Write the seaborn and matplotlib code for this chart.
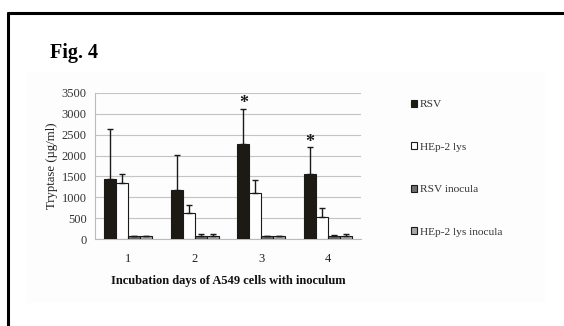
import matplotlib
matplotlib.use('Agg')
import matplotlib.pyplot as plt
from matplotlib.lines import Line2D
from matplotlib.patches import Rectangle, Patch
import seaborn as sns
import pandas as pd
import numpy as np

sns.set_style('white')
plt.rcParams['font.family'] = ['Liberation Serif', 'DejaVu Serif']

days = ['1', '2', '3', '4']
groups = ['RSV', 'HEp-2 lys', 'RSV inocula', 'HEp-2 lys inocula']
rsv = [1440, 1170, 2270, 1550]
rsv_err = [1190, 850, 850, 650]
hep = [1350, 630, 1095, 530]
hep_err = [200, 180, 320, 220]
rsv_inoc = [60, 80, 60, 70]
rsv_inoc_err = [20, 40, 20, 30]
hep_inoc = [60, 80, 60, 80]
hep_inoc_err = [20, 50, 20, 50]
signif = [False, False, True, True]

colors = ['#1f1b12', '#ffffff', '#6e6e6e', '#a8a8a8']

values = [rsv, hep, rsv_inoc, hep_inoc]
errors = [rsv_err, hep_err, rsv_inoc_err, hep_inoc_err]
df = pd.DataFrame({
    'day': days * 4,
    'group': np.repeat(groups, 4),
    'val': sum(values, []),
})

fig = plt.figure(figsize=(5.64, 3.26), dpi=100)
# faint panel and the cropped frame
fig.add_artist(Rectangle((27 / 564, 1 - 303 / 326), 518 / 564, 231 / 326,
                         transform=fig.transFigure, facecolor='#fdfdfd',
                         edgecolor='none', zorder=0))
fig.add_artist(Line2D([8 / 564, 8 / 564], [0, 1 - 13 / 326], color='black', lw=2.2))
fig.add_artist(Line2D([8 / 564, 1], [1 - 13 / 326, 1 - 13 / 326], color='black', lw=2.2))

ax = fig.add_axes([95 / 564, 1 - 239 / 326, 266 / 564, 146 / 326])
ax.set_facecolor('none')
sns.barplot(data=df, x='day', y='val', hue='group', hue_order=groups,
            palette=colors, width=0.72, errorbar=None, edgecolor='#1a1a1a',
            linewidth=0.8, legend=False, ax=ax, zorder=3)

for cont, err in zip(ax.containers, errors):
    xs = [p.get_x() + p.get_width() / 2 for p in cont.patches]
    hs = [p.get_height() for p in cont.patches]
    ax.errorbar(xs, hs, yerr=[np.zeros(len(err)), err], fmt='none',
                ecolor='#1a1a1a', elinewidth=1.0, capsize=2.5, capthick=1.0, zorder=4)

for cont, err, vals in zip(ax.containers[:1], errors[:1], values[:1]):
    for p, e, v, s in zip(cont.patches, err, vals, signif):
        if s:
            ax.text(p.get_x() + p.get_width() / 2, v + e + 120, '*', ha='center',
                    va='center', fontsize=13, fontweight='bold', color='#1a1a1a')

ax.set_ylim(0, 3500)
ax.set_xlim(-0.5, 3.5)
ax.set_yticks(np.arange(0, 3501, 500))
ax.yaxis.grid(True, color='#c4c4c4', lw=0.8, zorder=0)
ax.set_axisbelow(True)
for side in ['top', 'right']:
    ax.spines[side].set_visible(False)
ax.spines['left'].set_color('#bbbbbb')
ax.spines['bottom'].set_color('#bbbbbb')
ax.set_xticks([0, 1, 2, 3])
ax.set_xticks([-0.5, 0.5, 1.5, 2.5, 3.5], minor=True)
ax.tick_params(axis='x', which='major', length=0, pad=10, labelsize=9, labelcolor='#222222')
ax.tick_params(axis='x', which='minor', length=4, color='#bbbbbb', direction='out')
ax.tick_params(axis='y', length=0, pad=6, labelsize=9, labelcolor='#333333')
ax.set_ylabel('Tryptase (µg/ml)', fontsize=9.2, color='#222222', labelpad=3)
ax.set_xlabel('Incubation days of A549 cells with inoculum', fontsize=9,
              fontweight='bold', color='#111111', labelpad=7)

fig.text(50 / 564, 1 - 53 / 326, 'Fig. 4', fontsize=14.5, fontweight='bold',
         va='center', ha='left', color='black')

handles = [Patch(facecolor=c, edgecolor='#1a1a1a', linewidth=0.8) for c in colors]
fig.legend(handles, groups, loc='upper left', bbox_to_anchor=(411 / 564, 1 - 100 / 326),
           frameon=False, fontsize=8.2, labelspacing=2.9, handlelength=0.55,
           handleheight=0.55, handletextpad=0.2, labelcolor='#333333',
           borderaxespad=0, borderpad=0)

fig.savefig('out.png', dpi=100)
